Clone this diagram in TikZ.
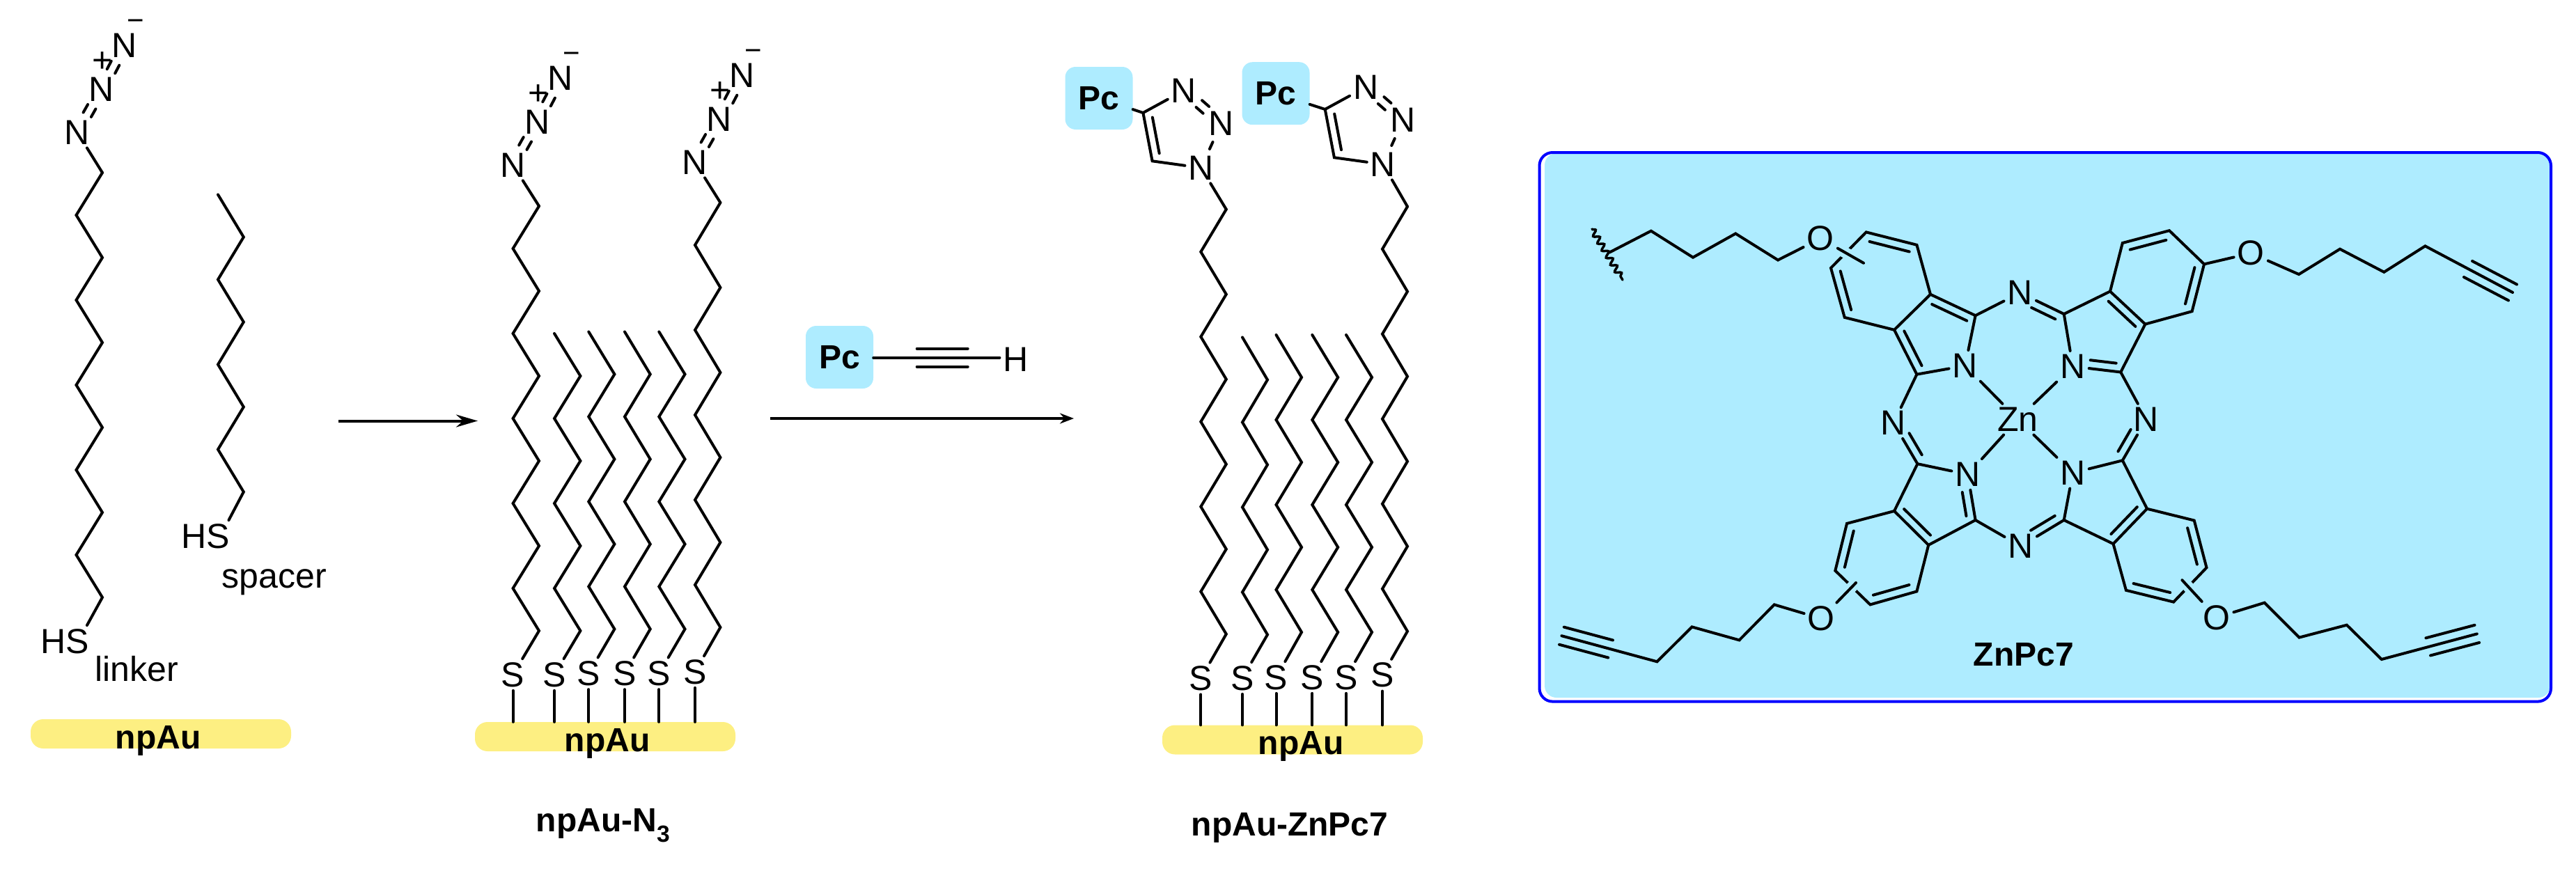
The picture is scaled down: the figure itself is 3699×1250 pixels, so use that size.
\documentclass[tikz,border=0pt]{standalone}
\usepackage{fontspec}
\setmainfont{Liberation Sans}
\usetikzlibrary{arrows.meta,calc,decorations.pathmorphing}
\definecolor{pcblue}{HTML}{AEECFF}
\definecolor{aucolor}{HTML}{FDEF82}
\definecolor{framecolor}{HTML}{0000FF}
\tikzset{
	bond/.style={draw, line width=4pt, line cap=round},
	halo/.style={preaction={draw=pcblue, line width=16pt}},
	wavy/.style={bond, line width=3.5pt, decorate, decoration={snake, amplitude=4pt, segment length=12pt}},
	atom/.style={font=\fontsize{50}{60}\selectfont, inner sep=5pt},
	charge/.style={font=\fontsize{50}{60}\selectfont, inner sep=0pt},
	chemtxt/.style={font=\fontsize{50}{60}\selectfont, inner sep=0pt, anchor=base},
	boldtxt/.style={font=\fontsize{48}{58}\selectfont\bfseries, inner sep=0pt, anchor=base},
	aubar/.style={fill=aucolor, rounded corners=18pt, inner sep=0pt, minimum width=374pt, minimum height=42pt},
	pcbox/.style={fill=pcblue, rounded corners=15pt, inner sep=0pt, minimum width=97pt, minimum height=90pt, font=\fontsize{48}{58}\selectfont\bfseries},
	arrowa/.style={line width=4pt, -{Stealth[length=31pt, width=18pt]}},
	arrowb/.style={line width=4pt, -{Stealth[length=20pt, width=15pt]}}
}
% #1 name, #2 x low, #3 x high, #4 y of lowest bend, #5 last bend, #6 start
\newcommand{\zigzag}[6]{
	\foreach \k in {0,...,#5} {
		\pgfmathsetmacro{\xk}{int(mod(\k,2))==1 ? #2 : #3}
		\coordinate (#1-\k) at (\xk, {#4-61*\k});
	}
	\draw[bond] (#6) -- (#1-0) foreach \k in {1,...,#5} { -- (#1-\k) };
}
% the chain with its S atom, #6 y of S, #7 gold bar
\newcommand{\thiol}[7]{
	\node (#1-s) [atom] at (#2, #6) {S};
	\draw[bond] (#1-s) -- (#1-s |- #7.north);
	\zigzag{#1}{#2}{#3}{#4}{#5}{#1-s}
}
\newcommand{\twobond}[4]{
	\draw[bond, shorten <=#4, shorten >=#4] ($(#1)!#3!90:(#2)$) -- ($(#2)!#3!-90:(#1)$);
	\draw[bond, shorten <=#4, shorten >=#4] ($(#1)!#3!-90:(#2)$) -- ($(#2)!#3!90:(#1)$);
}
% inner line of a double bond, on the left going from #1 to #2
\newcommand{\inbond}[4]{
	\draw[bond, shorten <=#3, shorten >=#4] ($(#1)!12pt!90:(#2)$) -- ($(#2)!12pt!-90:(#1)$);
}
\newcommand{\azide}[3]{
	\node (#1-a) [atom] at (#2, #3) {N};
	\node (#1-b) [atom] at ($(#1-a)+(35,-62)$) {N};
	\node (#1-c) [atom] at ($(#1-a)+(68,-125)$) {N};
	\node (#1-p) [charge] at ($(#1-a)+(36,-101)$) {+};
	\node (#1-m) [charge, font=\fontsize{42}{50}\selectfont] at ($(#1-a)+(84,-154)$) {−};
	\twobond{#1-a}{#1-b}{6.5pt}{29pt}
	\twobond{#1-b}{#1-c}{6.5pt}{29pt}
}
\newcommand{\triazole}[3]{
	\node (#1-nc) [atom] at (#2, #3) {N};
	\node (#1-na) [atom] at ($(#1-nc)+(-24.7,-111)$) {N};
	\node (#1-nb) [atom] at ($(#1-nc)+(29,-64)$) {N};
	\coordinate (#1-c4) at ($(#1-nc)+(-83.3,-79)$);
	\coordinate (#1-c5) at ($(#1-nc)+(-70.1,-9.7)$);
	\draw[bond] (#1-na) -- (#1-c4) -- (#1-c5) -- (#1-nc);
	\inbond{#1-c4}{#1-c5}{9pt}{9pt}
	\twobond{#1-na}{#1-nb}{6.5pt}{29pt}
	\draw[bond, shorten <=5pt, shorten >=5pt] (#1-nb) -- (#1-nc);
}

\begin{document}
\begin{tikzpicture}[x=1pt, y=-1pt]
	\useasboundingbox (0,0) rectangle (3699,1250);

	% linker and spacer
	\node (au1) [aubar] at (231, 1054) {};
	\node (au1t) [boldtxt] at (227, 1075) {npAu};
	\node (hs1) [atom] at (93, 921) {HS};
	\node (hs2) [atom] at (295.5, 770) {HS};
	\node (lab1) [chemtxt] at (196, 978) {linker};
	\node (lab2) [chemtxt] at (394, 844) {spacer};
	\azide{z0}{111}{190}
	\zigzag{lk}{109.5}{147}{858}{10}{[xshift=-8pt]hs1.north east}
	\draw[bond] (lk-10) -- (z0-a);
	\zigzag{sp}{313}{349.8}{706.5}{7}{[xshift=-7pt]hs2.north east}

	\coordinate (ar1a) at (486, 604.5);
	\coordinate (ar1b) at (686, 604.5);
	\draw[arrowa] (ar1a) -- (ar1b);

	% npAu-N3
	\node (au2) [aubar] at (869, 1058) {};
	\node (au2t) [boldtxt] at (872, 1079) {npAu};
	\node (lab3) [boldtxt] at (866, 1194.5) {npAu-N\textsubscript{3}};
	\azide{z1}{736.6}{237}
	\azide{z2}{998}{233}
	\thiol{c1}{736.6}{774}{906}{10}{969}{au2}
	\thiol{c2}{796}{833.4}{906}{7}{969}{au2}
	\thiol{c3}{845.3}{882.4}{903.5}{7}{967.3}{au2}
	\thiol{c4}{897}{933.7}{903.5}{7}{967.3}{au2}
	\thiol{c5}{946.3}{983.5}{903.5}{7}{967.3}{au2}
	\thiol{c6}{998}{1034.4}{901}{10}{965}{au2}
	\draw[bond] (c1-10) -- (z1-a);
	\draw[bond] (c6-10) -- (z2-a);

	% reagent
	\node (pc0) [pcbox] at (1205.5, 513) {Pc};
	\node (h0) [atom] at (1458.7, 516) {H};
	\coordinate (ts0) at (1316.7, 513.7);
	\coordinate (te0) at (1389.7, 513.7);
	\draw[bond] (pc0.east |- ts0) -- (h0.west |- ts0);
	\twobond{ts0}{te0}{13pt}{0pt}
	\coordinate (ar2a) at (1106, 601);
	\coordinate (ar2b) at (1542, 601);
	\draw[arrowb] (ar2a) -- (ar2b);

	% npAu-ZnPc7
	\node (au3) [aubar] at (1856, 1062.5) {};
	\node (au3t) [boldtxt] at (1868, 1083) {npAu};
	\node (lab4) [boldtxt] at (1852, 1200) {npAu-ZnPc7};
	\thiol{d1}{1724.3}{1760.8}{910.7}{10}{974.5}{au3}
	\thiol{d2}{1784}{1820}{911.5}{7}{974}{au3}
	\thiol{d3}{1832.5}{1869}{908}{7}{973}{au3}
	\thiol{d4}{1884.3}{1921.2}{908}{7}{973}{au3}
	\thiol{d5}{1933}{1970}{908}{7}{973}{au3}
	\thiol{d6}{1985}{2021}{906.7}{10}{969.7}{au3}
	\triazole{t1}{1724.7}{241}
	\triazole{t2}{1986}{236}
	\node (pc1) [pcbox] at (1578, 141) {Pc};
	\node (pc2) [pcbox] at (1832, 134.2) {Pc};
	\draw[bond] (pc1) -- (t1-c4);
	\draw[bond] (pc2) -- (t2-c4);
	\draw[bond] (d1-10) -- (t1-nc);
	\draw[bond] (d6-10) -- (t2-nc);

	% ZnPc7 panel
	\node (panelfill) [fill=pcblue, rounded corners=17pt, inner sep=0pt, minimum width=1444pt, minimum height=782pt] at (2940, 611) {};
	\node (panel) [draw=framecolor, line width=4pt, rounded corners=19pt, inner sep=0pt, minimum width=1452.5pt, minimum height=788.6pt] at (2936.75, 613.3) {};
	\node (zn) [atom] at (2897.4, 602.2) {Zn};
	\node (nul) [atom] at (2821.8, 525.3) {N};
	\node (nur) [atom] at (2976.4, 526.3) {N};
	\node (nll) [atom] at (2825.6, 681.4) {N};
	\node (nlr) [atom] at (2976.4, 679.2) {N};
	\node (nt) [atom] at (2900.7, 420.6) {N};
	\node (nb) [atom] at (2901.7, 784.4) {N};
	\node (nl) [atom] at (2719, 607.6) {N};
	\node (nr) [atom] at (3082, 602.2) {N};
	\node (oul) [atom] at (2614.2, 342.6) {O};
	\node (oll) [atom] at (2615.2, 888.4) {O};
	\node (our) [atom] at (3232.2, 363.7) {O};
	\node (olr) [atom] at (3182.8, 886.8) {O};
	\node (lab5) [boldtxt] at (2905.7, 956) {ZnPc7};
	\foreach \nm/\x/\y in {
		ul1/2679.7/333.4, ul2/2752.4/351.8, ula/2772/422.8, ulb/2720/473.8, ul5/2648.7/455.9, ul6/2629/384.9,
		ulc/2752.4/537.7, uld/2836.6/453.2,
		llc/2753.4/666.2, llb/2720/734, lla/2769.2/782.8, lld/2836.6/747,
		ll5/2652/751.9, ll6/2635.3/819.6, ll7/2685.5/868.4, ll8/2752.4/849.4,
		ura/3030/418.5, urb/3080.4/465.6, urc/3045.2/534.5, urd/2963.7/451,
		ur1/3047.8/349, ur2/3115/331.2, ur3/3165/379.4, ur4/3147.6/447.2,
		lrc/3047.8/661.3, lrb/3083/730.7, lra/3034.5/781.1, lrd/2963.7/747,
		lr1/3150.7/747.5, lr2/3168.5/815.3, lr3/3121.1/864.6, lr4/3052.9/847.8,
		wava/2286/329, wavb/2330/402,
		a1/2311/362.6, a2/2370.8/331.7, a3/2431/369.7, a4/2492.2/335.5, a5/2553/373.5, asub/2676/377.8,
		b1/2547.7/868.4, b2/2497.5/919.4, b3/2429.6/900.4, b4/2379.4/950.3, bs/2312.6/932, be/2242.4/913.2, bsub/2665/837,
		e1/3301/394, e2/3360/357.7, e3/3423.3/390.8, e4/3482.4/353.4, es/3544/386.5, ee/3608/420,
		f1/3251.6/865.7, f2/3301.5/915.6, f3/3369.8/897.7, f4/3419.8/947, fs/3486.7/928.9, fe/3556.8/910.4, fsub/3133.4/833.2
	} {
		\coordinate (\nm) at (\x, \y);
	}

	\draw[bond] (ula) -- (ul2) -- (ul1) -- (ul6) -- (ul5) -- (ulb);
	\draw[bond] (nl) -- (ulc) -- (nul) -- (uld) -- (nt);
	\draw[bond] (ulc) -- (ulb) -- (ula) -- (uld);
	\draw[bond] (nl) -- (llc) -- (nll);
	\draw[bond] (llc) -- (llb) -- (lla) -- (lld) -- (nll);
	\draw[bond] (lld) -- (nb);
	\draw[bond] (lla) -- (ll8) -- (ll7) -- (ll6) -- (ll5) -- (llb);
	\draw[bond] (urd) -- (ura) -- (urb) -- (urc) -- (nur);
	\draw[bond] (nt) -- (urd) -- (nur);
	\draw[bond] (urc) -- (nr);
	\draw[bond] (ura) -- (ur1) -- (ur2) -- (ur3) -- (ur4) -- (urb);
	\draw[bond] (nr) -- (lrc) -- (nlr) -- (lrd) -- (nb);
	\draw[bond] (lrc) -- (lrb) -- (lra) -- (lrd);
	\draw[bond] (lra) -- (lr4) -- (lr3) -- (lr2) -- (lr1) -- (lrb);
	\draw[bond] (zn) -- (nul);
	\draw[bond] (zn) -- (nur);
	\draw[bond] (zn) -- (nll);
	\draw[bond] (zn) -- (nlr);

	\inbond{ul2}{ul1}{8pt}{8pt}
	\inbond{ul6}{ul5}{8pt}{8pt}
	\inbond{uld}{ula}{8pt}{8pt}
	\inbond{ulb}{ulc}{8pt}{8pt}
	\inbond{llb}{lla}{8pt}{8pt}
	\inbond{lld}{nll}{8pt}{24pt}
	\inbond{ll5}{ll6}{8pt}{8pt}
	\inbond{ll7}{ll8}{8pt}{8pt}
	\inbond{nl}{llc}{24pt}{8pt}
	\inbond{urb}{ura}{8pt}{8pt}
	\inbond{nur}{urc}{24pt}{8pt}
	\inbond{ur2}{ur1}{8pt}{8pt}
	\inbond{ur4}{ur3}{8pt}{8pt}
	\inbond{urd}{nt}{8pt}{24pt}
	\inbond{lra}{lrb}{8pt}{8pt}
	\inbond{lr2}{lr1}{8pt}{8pt}
	\inbond{lr4}{lr3}{8pt}{8pt}
	\inbond{lrc}{nr}{8pt}{24pt}
	\inbond{nb}{lrd}{24pt}{8pt}

	\draw[wavy] (wava) -- (wavb);
	\draw[bond] (a1) -- (a2) -- (a3) -- (a4) -- (a5) -- (oul);
	\draw[bond, halo] (oul) -- (asub);
	\draw[bond] (oll) -- (b1) -- (b2) -- (b3) -- (b4) -- (be);
	\draw[bond, halo] (oll) -- (bsub);
	\twobond{bs}{be}{13pt}{0pt}
	\draw[bond] (ur3) -- (our) -- (e1) -- (e2) -- (e3) -- (e4) -- (ee);
	\twobond{es}{ee}{13pt}{0pt}
	\draw[bond] (olr) -- (f1) -- (f2) -- (f3) -- (f4) -- (fe);
	\draw[bond, halo] (olr) -- (fsub);
	\twobond{fs}{fe}{13pt}{0pt}
\end{tikzpicture}
\end{document}
